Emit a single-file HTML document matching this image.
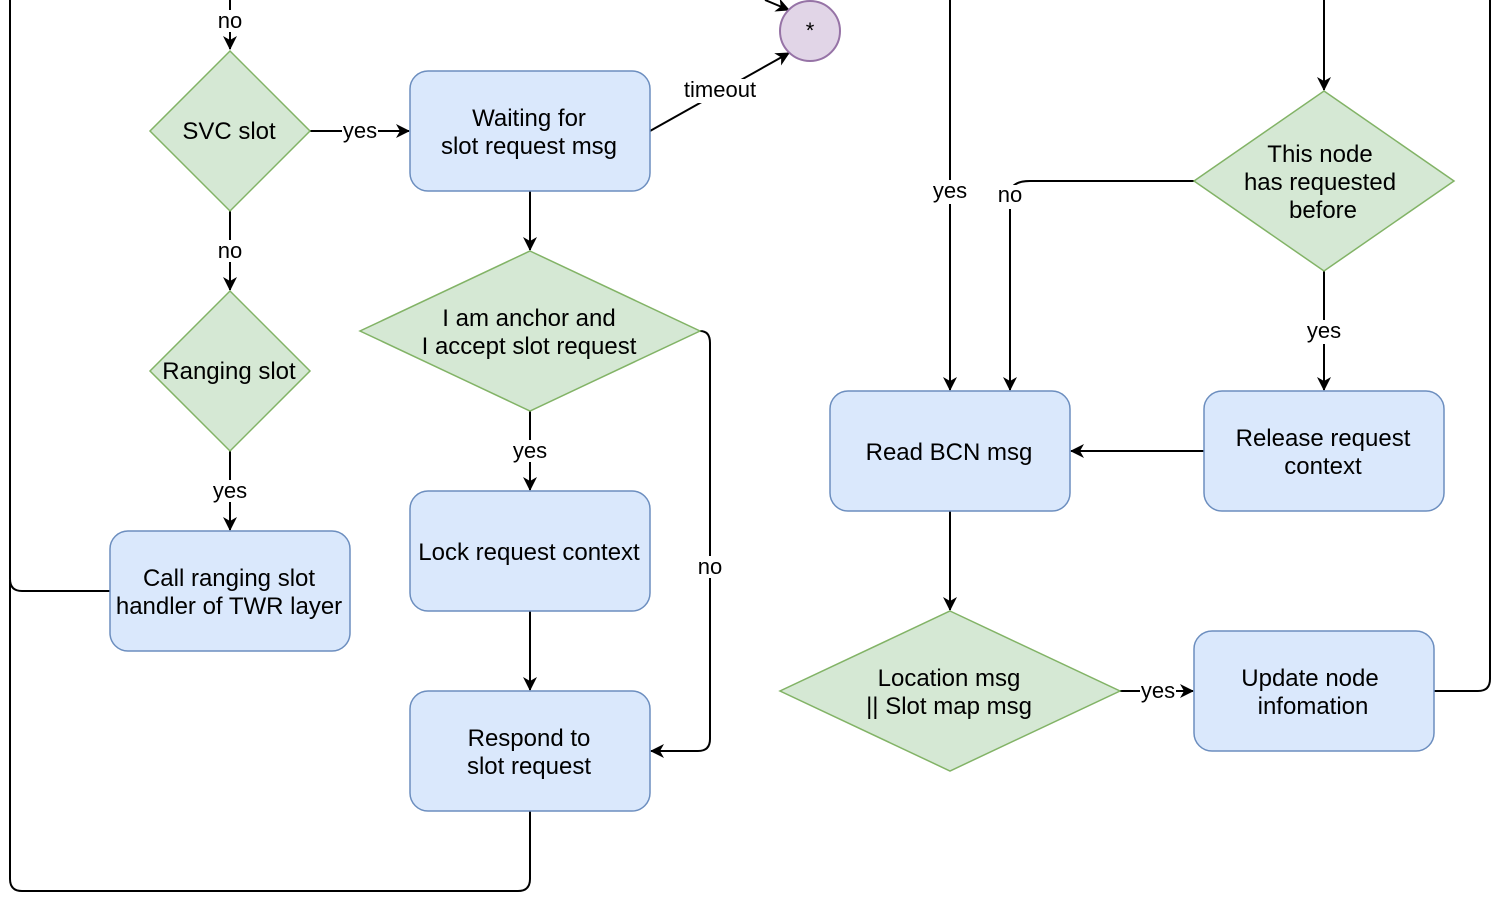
<!DOCTYPE html>
<html><head><meta charset="utf-8"><style>
html,body{margin:0;padding:0;background:#fff;}
svg{display:block;font-family:"Liberation Sans",Arial,sans-serif;}
text{font-size:22px;fill:#000;text-anchor:middle;}
.n{font-size:24px;}
.r{fill:#dae8fc;stroke:#6c8ebf;stroke-width:1.5;}
.d{fill:#d5e8d4;stroke:#82b366;stroke-width:1.5;}
.l{fill:none;stroke:#000;stroke-width:2;}
.lb{fill:#fff;}
</style></head><body>
<svg width="1506" height="908" viewBox="0 0 1506 908" xmlns="http://www.w3.org/2000/svg">
<defs><marker id="a" markerWidth="14" markerHeight="14" refX="13" refY="7" orient="auto" markerUnits="userSpaceOnUse"><path d="M0,0 L14,7 L0,14 L4,7 z" fill="#000"/></marker></defs>

<path class="l" d="M230,0 V49" marker-end="url(#a)"/>
<path class="l" d="M310,131 H409" marker-end="url(#a)"/>
<path class="l" d="M230,211 V290" marker-end="url(#a)"/>
<path class="l" d="M230,451 V530" marker-end="url(#a)"/>
<path class="l" d="M110,591 H22 Q10,591 10,579 V0"/>
<path class="l" d="M530,191 V250" marker-end="url(#a)"/>
<path class="l" d="M530,411 V490" marker-end="url(#a)"/>
<path class="l" d="M530,611 V690" marker-end="url(#a)"/>
<path class="l" d="M700,331 Q710,331 710,343 V739 Q710,751 698,751 H651" marker-end="url(#a)"/>
<path class="l" d="M530,811 V879 Q530,891 518,891 H22 Q10,891 10,879 V580"/>
<path class="l" d="M650,131 L789,53" marker-end="url(#a)"/>
<path class="l" d="M765,0 L789,10" marker-end="url(#a)"/>
<path class="l" d="M950,0 V390" marker-end="url(#a)"/>
<path class="l" d="M1194,181 H1030 Q1010,181 1010,195 V390" marker-end="url(#a)"/>
<path class="l" d="M1324,0 V90" marker-end="url(#a)"/>
<path class="l" d="M1324,271 V390" marker-end="url(#a)"/>
<path class="l" d="M1204,451 H1071" marker-end="url(#a)"/>
<path class="l" d="M950,511 V610" marker-end="url(#a)"/>
<path class="l" d="M1120,691 H1193" marker-end="url(#a)"/>
<path class="l" d="M1434,691 H1478 Q1490,691 1490,679 V0"/>

<rect class="lb" x="215" y="10" width="30" height="22"/><text x="230" y="28">no</text>
<rect class="lb" x="342" y="121" width="36" height="20"/><text x="360" y="138">yes</text>
<rect class="lb" x="215" y="240" width="30" height="22"/><text x="230" y="258">no</text>
<rect class="lb" x="211" y="480" width="38" height="22"/><text x="230" y="498">yes</text>
<rect class="lb" x="511" y="440" width="38" height="22"/><text x="530" y="458">yes</text>
<rect class="lb" x="695" y="556" width="30" height="22"/><text x="710" y="574">no</text>
<rect class="lb" x="682" y="79" width="76" height="24"/><text x="720" y="97">timeout</text>
<rect class="lb" x="930" y="180" width="40" height="24"/><text x="950" y="198">yes</text>
<rect class="lb" x="995" y="185" width="30" height="24"/><text x="1010" y="202">no</text>
<rect class="lb" x="1305" y="320" width="38" height="24"/><text x="1324" y="338">yes</text>
<rect class="lb" x="1140" y="681" width="36" height="20"/><text x="1158" y="698">yes</text>

<circle cx="810" cy="31" r="30" fill="#e1d5e7" stroke="#9673a6" stroke-width="2"/><text x="810" y="38">*</text>
<polygon class="d" points="230,51 310,131 230,211 150,131"/><text class="n" x="229" y="139">SVC slot</text>
<polygon class="d" points="230,291 310,371 230,451 150,371"/><text class="n" x="229" y="379">Ranging slot</text>
<rect class="r" x="110" y="531" width="240" height="120" rx="18"/><text class="n" x="229" y="586">Call ranging slot</text><text class="n" x="229" y="614">handler of TWR layer</text>
<rect class="r" x="410" y="71" width="240" height="120" rx="18"/><text class="n" x="529" y="126">Waiting for</text><text class="n" x="529" y="154">slot request msg</text>
<polygon class="d" points="530,251 700,331 530,411 360,331"/><text class="n" x="529" y="326">I am anchor and</text><text class="n" x="529" y="354">I accept slot request</text>
<rect class="r" x="410" y="491" width="240" height="120" rx="18"/><text class="n" x="529" y="560">Lock request context</text>
<rect class="r" x="410" y="691" width="240" height="120" rx="18"/><text class="n" x="529" y="746">Respond to</text><text class="n" x="529" y="774">slot request</text>
<rect class="r" x="830" y="391" width="240" height="120" rx="18"/><text class="n" x="949" y="460">Read BCN msg</text>
<polygon class="d" points="1324,91 1454,181 1324,271 1194,181"/><text class="n" x="1320" y="162">This node</text><text class="n" x="1320" y="190">has requested</text><text class="n" x="1323" y="218">before</text>
<rect class="r" x="1204" y="391" width="240" height="120" rx="18"/><text class="n" x="1323" y="446">Release request</text><text class="n" x="1323" y="474">context</text>
<polygon class="d" points="950,611 1120,691 950,771 780,691"/><text class="n" x="949" y="686">Location msg</text><text class="n" x="949" y="714">|| Slot map msg</text>
<rect class="r" x="1194" y="631" width="240" height="120" rx="18"/><text class="n" x="1310" y="686">Update node</text><text class="n" x="1313" y="714">infomation</text>
</svg>
</body></html>
